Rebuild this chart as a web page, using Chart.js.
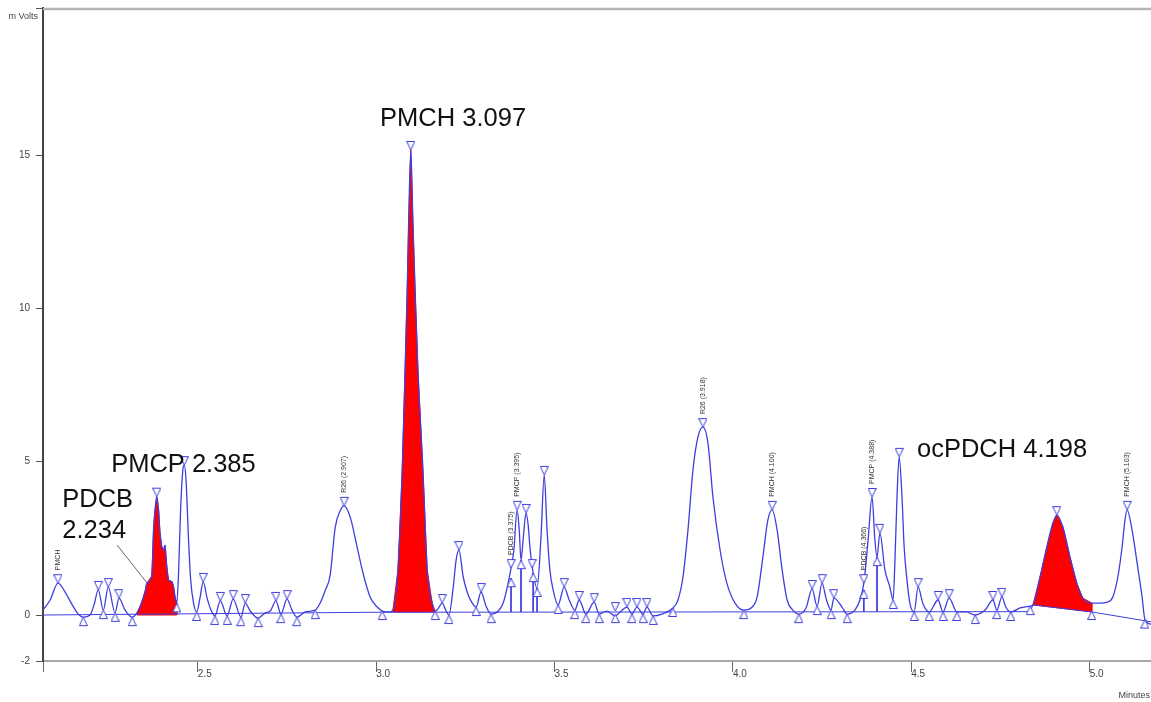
<!DOCTYPE html>
<html>
<head>
<meta charset="utf-8">
<script src="https://cdn.jsdelivr.net/npm/chart.js@4.4.1/dist/chart.umd.min.js"></script>
<style>
  html, body { margin: 0; padding: 0; background: #fff; }
  canvas { display: block; }
</style>
</head>
<body>
<canvas id="chart" width="1151" height="702"></canvas>
<script>
'use strict';

// chromatogram trace: retention time (minutes) and signal (mV)
const traceMin = [
  2.066, 2.086, 2.108, 2.128, 2.148, 2.162, 2.179, 2.198, 2.209, 2.221, 2.235, 2.249, 2.268, 2.279, 2.296, 2.316,
  2.329, 2.341, 2.352, 2.357, 2.371, 2.376, 2.380, 2.385, 2.390, 2.394, 2.399, 2.404, 2.408, 2.413, 2.418, 2.427, 2.432, 2.436, 2.441,
  2.446, 2.452, 2.458, 2.462, 2.467, 2.474, 2.480, 2.488, 2.497,
  2.506, 2.515, 2.526, 2.537, 2.548, 2.563, 2.582, 2.599, 2.621, 2.633, 2.647, 2.669,
  2.689, 2.703, 2.719, 2.733, 2.750, 2.764, 2.778, 2.801, 2.829, 2.843, 2.857, 2.871, 2.885, 2.899, 2.910, 2.927, 2.946, 2.963, 2.983, 3.003, 3.017, 3.039,
  3.047, 3.061, 3.073, 3.081, 3.087, 3.091, 3.097, 3.103, 3.109, 3.117, 3.131, 3.143, 3.157, 3.165,
  3.173, 3.185, 3.196, 3.204, 3.216, 3.224, 3.232, 3.244, 3.255, 3.263, 3.280, 3.294, 3.308, 3.322, 3.342, 3.356,
  3.370, 3.378, 3.386, 3.395, 3.401, 3.406, 3.413, 3.420, 3.426, 3.431, 3.440, 3.451, 3.462, 3.471, 3.479, 3.487, 3.496,
  3.510, 3.527, 3.541, 3.557, 3.569, 3.588, 3.611, 3.625, 3.647, 3.670, 3.684, 3.703, 3.717, 3.731, 3.748, 3.759, 3.776, 3.801, 3.832,
  3.846, 3.860, 3.874, 3.888, 3.902, 3.916, 3.930, 3.944, 3.964, 3.983, 4.006, 4.031, 4.054, 4.068, 4.084, 4.098, 4.110, 4.124, 4.138, 4.152, 4.168, 4.185,
  4.205, 4.222, 4.236, 4.250, 4.261, 4.275, 4.283, 4.306, 4.320, 4.342, 4.356, 4.367, 4.379, 4.390, 4.398, 4.404, 4.412, 4.426, 4.440,
  4.449, 4.454, 4.460, 4.466, 4.474, 4.480, 4.488, 4.496, 4.508, 4.519, 4.533, 4.550, 4.575, 4.589, 4.606, 4.628, 4.653, 4.679,
  4.707, 4.729, 4.740, 4.754, 4.765, 4.779, 4.805, 4.833,
  4.841, 4.861, 4.880, 4.897, 4.908, 4.925, 4.945, 4.964, 4.981, 5.006,
  5.029, 5.049, 5.065, 5.079, 5.091, 5.099, 5.105, 5.119, 5.133, 5.147, 5.155, 5.172
];
const traceMv = [
  0.16, 0.49, 1.04, 0.75, 0.33, 0.07, -0.07, 0.00, 0.33, 0.82, 0.16, 0.91, 0.07, 0.55, 0.16, -0.07,
  0.06, 0.36, 0.76, 1.03, 1.28, 2.81, 3.42, 3.86, 3.42, 2.67, 2.23, 2.12, 2.28, 1.58, 1.14, 1.09, 0.92, 0.60, 0.38,
  1.37, 3.52, 4.73, 4.89, 4.40, 2.45, 1.14, 0.39, 0.10,
  0.55, 1.08, 0.55, 0.16, -0.03, 0.46, -0.03, 0.52, -0.07, 0.39, 0.13, -0.10,
  0.07, 0.13, 0.46, 0.03, 0.52, 0.16, -0.07, 0.10, 0.16, 0.39, 0.80, 1.30, 2.85, 3.40, 3.56, 3.20, 2.25, 1.37, 0.59, 0.26, 0.13, 0.10,
  0.16, 1.47, 4.73, 7.99, 10.60, 12.79, 15.17, 12.79, 10.60, 7.99, 4.73, 1.47, 0.39, 0.13,
  0.20, 0.39, 0.13, 0.00, 0.91, 1.79, 2.12, 1.24, 0.75, 0.52, 0.26, 0.75, 0.29, 0.03, 0.13, 0.39,
  1.04, 1.53, 2.12, 3.43, 2.77, 1.79, 2.61, 3.33, 2.94, 2.22, 1.37, 0.88, 2.54, 4.57, 2.77, 1.47, 0.82,
  0.33, 0.91, 0.49, 0.16, 0.49, 0.03, 0.42, 0.03, 0.13, -0.03, 0.10, 0.26, 0.03, 0.26, 0.03, 0.26, -0.03, 0.03, 0.23,
  0.49, 1.24, 2.77, 4.73, 5.81, 6.13, 5.61, 3.85, 2.12, 1.04, 0.39, 0.16, 0.26, 0.59, 1.89, 3.10, 3.43, 2.77, 1.47, 0.49, 0.16, 0.03,
  0.23, 0.85, 0.29, 1.04, 0.55, 0.16, 0.55, 0.26, 0.03, 0.16, 0.49, 1.04, 2.45, 3.85, 2.45, 1.89, 2.68, 1.47, 0.91,
  0.49, 1.70, 3.85, 5.16, 3.85, 2.22, 1.14, 0.39, 0.10, 0.91, 0.36, 0.10, 0.49, 0.10, 0.55, 0.10, 0.10, 0.00,
  0.16, 0.49, 0.16, 0.59, 0.26, 0.10, 0.23, 0.29,
  0.33, 1.24, 2.22, 3.00, 3.26, 2.87, 1.89, 1.04, 0.55, 0.39,
  0.39, 0.42, 0.59, 1.24, 2.22, 3.10, 3.43, 2.77, 1.70, 0.59, -0.15, -0.30
];

// integration baseline
const baseMin = [2.066, 3.000, 4.833, 4.841, 5.006, 5.172];
const baseMv = [0.00, 0.09, 0.11, 0.33, 0.10, -0.22];

// shaded (identified) peaks: start/end time and the baseline under them
const redStart = [2.329, 3.047, 4.841];
const redEnd = [2.441, 3.165, 5.006];
const redBaseStart = [0.00, 0.10, 0.33];
const redBaseEnd = [0.00, 0.10, 0.10];

// peak apex markers and peak start/end markers
const peakMin = [2.108, 2.221, 2.249, 2.279, 2.385, 2.462, 2.515, 2.563, 2.599, 2.633, 2.719, 2.750, 2.910,
  3.097, 3.185, 3.232, 3.294, 3.378, 3.395, 3.420, 3.437, 3.471, 3.527, 3.569, 3.611, 3.670, 3.703, 3.731, 3.759,
  3.916, 4.110, 4.222, 4.250, 4.283, 4.367, 4.390, 4.412, 4.466, 4.519, 4.575, 4.606, 4.729, 4.754, 4.908, 5.105];
const peakMv = [1.04, 0.82, 0.91, 0.55, 3.86, 4.89, 1.08, 0.46, 0.52, 0.39, 0.46, 0.52, 3.56,
  15.17, 0.39, 2.12, 0.75, 1.53, 3.43, 3.33, 1.53, 4.57, 0.91, 0.49, 0.42, 0.13, 0.26, 0.26, 0.26,
  6.13, 3.43, 0.85, 1.04, 0.55, 1.04, 3.85, 2.68, 5.16, 0.91, 0.49, 0.55, 0.49, 0.59, 3.26, 3.43];
const valleyMin = [2.179, 2.235, 2.268, 2.316, 2.441, 2.497, 2.548, 2.582, 2.621, 2.669, 2.733, 2.778, 2.829,
  3.017, 3.165, 3.204, 3.280, 3.322, 3.378, 3.406, 3.440, 3.451, 3.510, 3.557, 3.588, 3.625, 3.670, 3.717, 3.748, 3.776, 3.832,
  4.031, 4.185, 4.236, 4.275, 4.320, 4.367, 4.404, 4.449, 4.508, 4.550, 4.589, 4.628, 4.679, 4.740, 4.779, 4.833, 5.006, 5.155];
const valleyMv = [-0.07, 0.16, 0.07, -0.07, 0.38, 0.10, -0.03, -0.03, -0.07, -0.10, 0.03, -0.07, 0.16,
  0.13, 0.13, 0.00, 0.26, 0.03, 1.20, 1.79, 1.37, 0.88, 0.33, 0.16, 0.03, 0.03, 0.03, 0.03, 0.03, -0.03, 0.23,
  0.16, 0.03, 0.29, 0.16, 0.03, 0.82, 1.89, 0.49, 0.10, 0.10, 0.10, 0.10, 0.00, 0.16, 0.10, 0.29, 0.13, -0.15];

// perpendicular drops between fused peaks
const dropMin = [3.378, 3.406, 3.440, 3.451, 4.367, 4.404];
const dropTopMv = [1.20, 1.79, 1.37, 0.88, 0.82, 1.89];
const dropBaseMv = 0.10;

// small peak names printed above the apex
const tagText = ['PMCH', 'R26 (2.907)', 'PDCB (3.375)', 'PMCP (3.395)', 'R26 (3.918)', 'PMCH (4.100)',
  'PDCB (4.366)', 'PMCP (4.388)', 'PMCH (5.103)'];
const tagMin = [2.108, 2.910, 3.378, 3.395, 3.916, 4.110, 4.367, 4.390, 5.105];
const tagMv = [1.04, 3.56, 1.53, 3.43, 6.13, 3.43, 1.04, 3.85, 3.43];

// large annotations (left edge / vertical middle)
const noteText = ['PMCH 3.097', 'PMCP 2.385', 'PDCB', '2.234', 'ocPDCH 4.198'];
const noteMin = [3.011, 2.257, 2.120, 2.120, 4.516];
const noteMv = [16.18, 4.89, 3.75, 2.74, 5.38];
const leaderMin = [2.274, 2.358];
const leaderMv = [2.28, 1.04];

// axes
const xMin = 2.066, xMax = 5.172;
const xTickValues = [2.5, 3.0, 3.5, 4.0, 4.5, 5.0];
const yMin = -1.5, yMax = 19.8;
const yTickValues = [-1.5, 0, 5, 10, 15];
const yTickText = ['-2', '0', '5', '10', '15'];

const BLUE = 'rgb(62,62,222)';

const pts = (xs, ys) => xs.map((v, i) => ({x: v, y: ys[i]}));
const tracePts = pts(traceMin, traceMv);

function redShape(i) {
  const out = tracePts.filter(p => p.x >= redStart[i] && p.x <= redEnd[i]);
  out.push({x: redEnd[i], y: redBaseEnd[i]}, {x: redStart[i], y: redBaseStart[i]});
  return out;
}

// triangle markers, drawn so the tip sits on the data point
function triangle(down) {
  const c = document.createElement('canvas');
  c.width = 9; c.height = 20;
  const g = c.getContext('2d');
  g.beginPath();
  if (down) {
    g.moveTo(0.5, 1.5); g.lineTo(8.5, 1.5); g.lineTo(4.5, 10);
  } else {
    g.moveTo(4.5, 10); g.lineTo(8.5, 18.5); g.lineTo(0.5, 18.5);
  }
  g.closePath();
  g.fillStyle = '#fff';
  g.fill();
  g.strokeStyle = BLUE;
  g.lineWidth = 1;
  g.stroke();
  return c;
}

const drops = [];
dropMin.forEach((m, i) => {
  drops.push({x: m, y: dropTopMv[i]}, {x: m, y: dropBaseMv}, {x: m, y: null});
});

const datasets = [];
redStart.forEach((s, i) => {
  datasets.push({
    data: redShape(i), fill: 'shape', backgroundColor: '#ff0000', borderColor: '#ff0000',
    borderWidth: 1, pointRadius: 0, tension: 0, order: 5
  });
});
datasets.push({
  data: pts(baseMin, baseMv), borderColor: BLUE, borderWidth: 1, pointRadius: 0, fill: false, order: 3
});
datasets.push({
  data: drops, borderColor: BLUE, borderWidth: 1, pointRadius: 0, fill: false, spanGaps: false, order: 3
});
datasets.push({
  data: tracePts, borderColor: BLUE, borderWidth: 1.3, pointRadius: 0, fill: false,
  cubicInterpolationMode: 'monotone', order: 2
});
datasets.push({
  data: pts(leaderMin, leaderMv), borderColor: '#666', borderWidth: 1, pointRadius: 0, fill: false, order: 2
});
datasets.push({
  data: pts(peakMin, peakMv), showLine: false, pointStyle: triangle(true), pointRadius: 5, order: 1
});
datasets.push({
  data: pts(valleyMin, valleyMv), showLine: false, pointStyle: triangle(false), pointRadius: 5, order: 1
});

const textPlugin = {
  id: 'chromText',
  afterDraw(chart) {
    const {ctx, chartArea: a, scales: {x, y}} = chart;
    ctx.save();
    // top frame line
    ctx.strokeStyle = '#b4b4b4';
    ctx.lineWidth = 2.5;
    ctx.beginPath();
    ctx.moveTo(a.left, a.top + 1);
    ctx.lineTo(a.right, a.top + 1);
    ctx.stroke();

    ctx.fillStyle = '#444';
    ctx.font = '9px "Liberation Sans", Arial, sans-serif';
    ctx.textBaseline = 'middle';
    ctx.textAlign = 'right';
    ctx.fillText('m Volts', a.left - 5, a.top + 9);
    ctx.fillText('Minutes', chart.width - 1, chart.height - 6);

    // rotated peak names
    ctx.fillStyle = '#333';
    ctx.font = '7px "Liberation Sans", Arial, sans-serif';
    ctx.textAlign = 'left';
    tagText.forEach((t, i) => {
      ctx.save();
      ctx.translate(x.getPixelForValue(tagMin[i]), y.getPixelForValue(tagMv[i]) - 13);
      ctx.rotate(-Math.PI / 2);
      ctx.fillText(t, 0, 0);
      ctx.restore();
    });

    // large labels
    ctx.fillStyle = '#111';
    ctx.font = '25.5px "Liberation Sans", Arial, sans-serif';
    noteText.forEach((t, i) => {
      ctx.fillText(t, x.getPixelForValue(noteMin[i]), y.getPixelForValue(noteMv[i]));
    });
    ctx.restore();
  }
};

new Chart(document.getElementById('chart'), {
  type: 'line',
  data: {datasets: datasets},
  options: {
    responsive: false,
    devicePixelRatio: 1,
    animation: false,
    events: [],
    layout: {autoPadding: false, padding: {top: 8, left: 0, right: 0, bottom: 0}},
    font: {family: '"Liberation Sans", Arial, sans-serif'},
    plugins: {legend: {display: false}, tooltip: {enabled: false}},
    scales: {
      x: {
        type: 'linear', min: xMin, max: xMax,
        afterBuildTicks: s => { s.ticks = [xMin].concat(xTickValues).map(v => ({value: v})); },
        afterFit: s => { s.height = 41; s.paddingLeft = 0; s.paddingRight = 0; },
        border: {display: true, color: '#a8a8a8', width: 2},
        grid: {drawOnChartArea: false, drawTicks: true, tickLength: 11, color: '#666'},
        ticks: {
          align: 'start', padding: -4, color: '#444', maxRotation: 0, autoSkip: false,
          font: {size: 10, family: '"Liberation Sans", Arial, sans-serif'},
          callback: v => xTickValues.includes(v) ? v.toFixed(1) : ''
        }
      },
      y: {
        type: 'linear', min: yMin, max: yMax,
        afterBuildTicks: s => { s.ticks = yTickValues.concat([yMax]).map(v => ({value: v})); },
        afterFit: s => { s.width = 43; s.paddingTop = 0; s.paddingBottom = 0; },
        border: {display: true, color: '#444', width: 2},
        grid: {drawOnChartArea: false, drawTicks: true, tickLength: 7, color: '#555'},
        ticks: {
          padding: 6, color: '#444', autoSkip: false,
          font: {size: 10, family: '"Liberation Sans", Arial, sans-serif'},
          callback: v => { const k = yTickValues.indexOf(v); return k < 0 ? '' : yTickText[k]; }
        }
      }
    }
  },
  plugins: [textPlugin]
});
</script>
</body>
</html>
